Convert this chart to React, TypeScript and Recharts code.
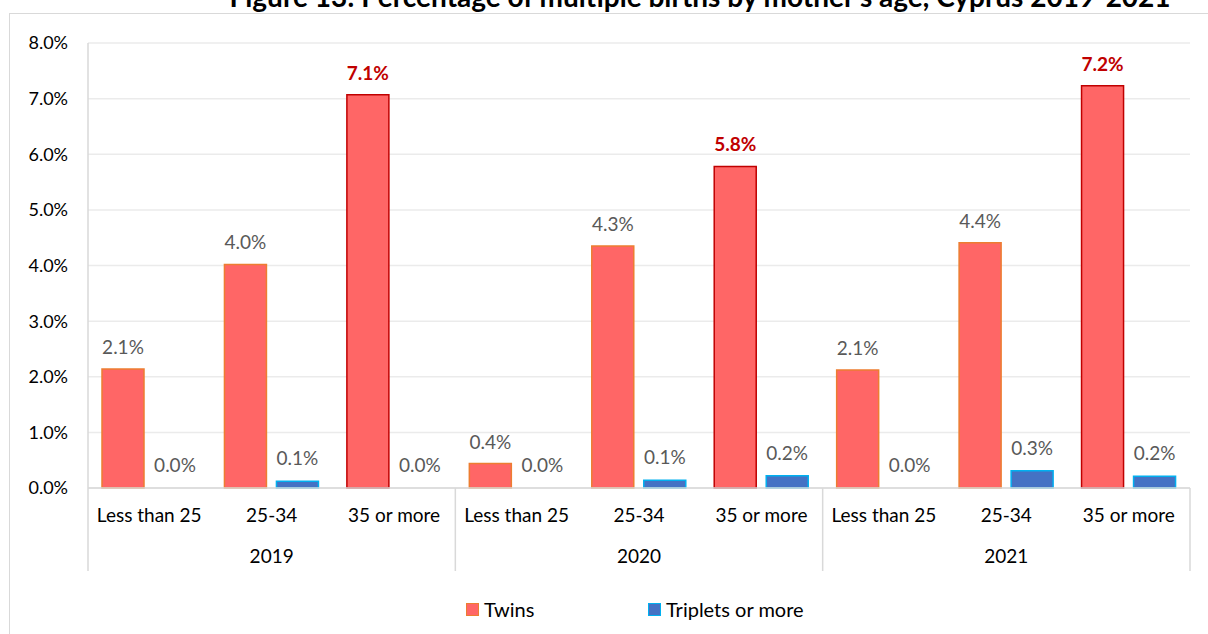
import React from 'react';
import {
  BarChart,
  Bar,
  XAxis,
  YAxis,
  CartesianGrid,
  LabelList,
  Cell,
} from 'recharts';

const years = ['2019', '2020', '2021'];
const ageGroups = ['Less than 25', '25-34', '35 or more'];

// percentages, one entry per year x age group
const twins = [2.14, 4.02, 7.07, 0.44, 4.35, 5.78, 2.12, 4.41, 7.23];
const triplets = [0.0, 0.12, 0.0, 0.0, 0.14, 0.22, 0.0, 0.31, 0.21];

const yTicks = [0, 1, 2, 3, 4, 5, 6, 7, 8];

const data = twins.map((t, i) => ({
  key: `${years[Math.floor(i / 3)]}-${ageGroups[i % 3]}`,
  age: ageGroups[i % 3],
  year: years[Math.floor(i / 3)],
  twins: t,
  triplets: triplets[i],
}));

const FONT = 'Lato, "Open Sans", sans-serif';
const TWIN_FILL = '#FF6666';
const TWIN_STROKE = '#ED7D31';
const TWIN_STROKE_HI = '#C00000';
const TRIP_FILL = '#4472C4';
const TRIP_STROKE = '#00B0F0';

const WIDTH = 1208;
const HEIGHT = 634;
const PLOT_LEFT = 88;
const PLOT_RIGHT = 1190;
const PLOT_BOTTOM = 488;
const BAND = (PLOT_RIGHT - PLOT_LEFT) / data.length;
const AGE_AXIS_H = 40;
const BAR_GAP = 10;

const fmt = (v: number) => `${v.toFixed(1)}%`;

const AgeTick = ({ x, y, index }: any) => {
  const left = x - BAND / 2;
  return (
    <g>
      <text x={x} y={y + 26} textAnchor="middle" fill="#000" fontSize={19} fontFamily={FONT}>
        {data[index]?.age}
      </text>
      {index % 3 === 0 && (
        <line x1={left} x2={left} y1={PLOT_BOTTOM} y2={571} stroke="#D9D9D9" strokeWidth={1.5} />
      )}
      {index === data.length - 1 && (
        <line x1={x + BAND / 2} x2={x + BAND / 2} y1={PLOT_BOTTOM} y2={571} stroke="#D9D9D9" strokeWidth={1.5} />
      )}
    </g>
  );
};

const YearTick = ({ x, y, index }: any) => {
  if (index % 3 !== 1) return null;
  return (
    <text x={x} y={y + 27} textAnchor="middle" fill="#000" fontSize={19} fontFamily={FONT}>
      {data[index]?.year}
    </text>
  );
};

// twins label; also places the label of a zero-height triplets bar next to it,
// since recharts skips labels of empty bars
const TwinLabel = ({ x, y, width, height, value, index }: any) => {
  const hi = data[index].age === '35 or more';
  const trip = data[index].triplets;
  return (
    <g>
      <text
        x={x + width / 2}
        y={y - 15}
        textAnchor="middle"
        fill={hi ? TWIN_STROKE_HI : '#595959'}
        fontWeight={hi ? 700 : 400}
        fontSize={19}
        fontFamily={FONT}
      >
        {fmt(value)}
      </text>
      {trip === 0 && (
        <text
          x={x + width + BAR_GAP + width / 2}
          y={y + height - 16}
          textAnchor="middle"
          fill="#595959"
          fontSize={19}
          fontFamily={FONT}
        >
          {fmt(trip)}
        </text>
      )}
    </g>
  );
};

const TripLabel = ({ x, y, width, value }: any) => {
  if (!value) return null;
  return (
    <text x={x + width / 2} y={y - 16} textAnchor="middle" fill="#595959" fontSize={19} fontFamily={FONT}>
      {fmt(value)}
    </text>
  );
};

const LegendItem = ({ left, fill, stroke, label }: any) => (
  <div
    style={{
      position: 'absolute',
      left,
      top: 597,
      display: 'flex',
      alignItems: 'center',
      fontFamily: FONT,
      fontSize: 20,
      color: '#000',
      whiteSpace: 'nowrap',
    }}
  >
    <span
      style={{
        width: 13,
        height: 13,
        background: fill,
        border: `1.5px solid ${stroke}`,
        boxSizing: 'border-box',
        marginRight: 5,
        display: 'inline-block',
      }}
    />
    {label}
  </div>
);

export default function App() {
  return (
    <div
      style={{
        position: 'absolute',
        left: 0,
        top: 0,
        width: WIDTH,
        height: HEIGHT,
        background: '#fff',
        overflow: 'hidden',
      }}
    >
      <div
        style={{
          position: 'absolute',
          left: 9,
          top: 13,
          width: 1220,
          height: 640,
          border: '1px solid #D9D9D9',
          boxSizing: 'border-box',
        }}
      />
      <div
        style={{
          position: 'absolute',
          top: -21,
          left: 0,
          width: WIDTH,
          paddingLeft: 192,
          boxSizing: 'border-box',
          textAlign: 'center',
          fontFamily: FONT,
          fontWeight: 700,
          fontSize: 28,
          color: '#000',
          whiteSpace: 'nowrap',
        }}
      >
        Figure 13: Percentage of multiple births by mother's age, Cyprus 2019-2021
      </div>
      <div style={{ position: 'absolute', left: 0, top: 0 }}>
        <BarChart
          width={WIDTH}
          height={HEIGHT}
          data={data}
          margin={{ top: 43, right: WIDTH - PLOT_RIGHT, left: 18, bottom: 0 }}
          barGap={BAR_GAP}
          barCategoryGap={14}
        >
          <CartesianGrid vertical={false} stroke="#EBEBEB" strokeWidth={1.5} />
          <XAxis
            dataKey="key"
            xAxisId="age"
            tick={<AgeTick />}
            tickLine={false}
            axisLine={{ stroke: '#D9D9D9', strokeWidth: 1.5 }}
            interval={0}
            height={AGE_AXIS_H}
          />
          <XAxis
            dataKey="key"
            xAxisId="year"
            tick={<YearTick />}
            tickLine={false}
            axisLine={false}
            interval={0}
            height={HEIGHT - PLOT_BOTTOM - AGE_AXIS_H}
          />
          <YAxis
            width={70}
            domain={[0, 8]}
            ticks={yTicks}
            tickFormatter={fmt}
            tick={{ fill: '#000', fontSize: 18, fontFamily: FONT }}
            tickLine={false}
            axisLine={{ stroke: '#D9D9D9', strokeWidth: 1.5 }}
            tickMargin={14}
          />
          <Bar dataKey="twins" xAxisId="age" name="Twins" fill={TWIN_FILL} isAnimationActive={false}>
            {data.map((d, i) => (
              <Cell
                key={`t-${i}`}
                fill={TWIN_FILL}
                stroke={d.age === '35 or more' ? TWIN_STROKE_HI : TWIN_STROKE}
                strokeWidth={1.5}
              />
            ))}
            <LabelList dataKey="twins" content={<TwinLabel />} />
          </Bar>
          <Bar
            dataKey="triplets"
            xAxisId="age"
            name="Triplets or more"
            fill={TRIP_FILL}
            stroke={TRIP_STROKE}
            strokeWidth={1.5}
            isAnimationActive={false}
          >
            <LabelList dataKey="triplets" content={<TripLabel />} />
          </Bar>
        </BarChart>
      </div>
      <LegendItem left={466} fill={TWIN_FILL} stroke={TWIN_STROKE} label="Twins" />
      <LegendItem left={648} fill={TRIP_FILL} stroke={TRIP_STROKE} label="Triplets or more" />
    </div>
  );
}
